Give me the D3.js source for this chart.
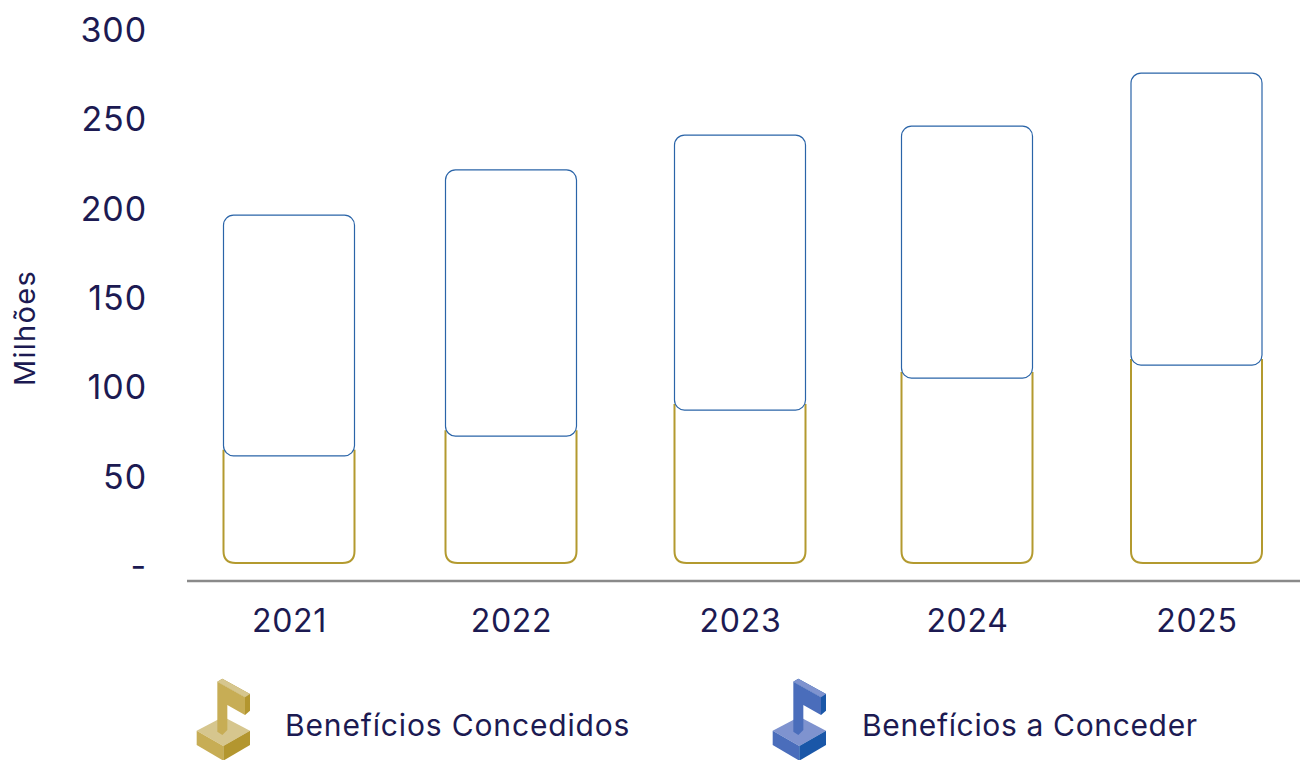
<!DOCTYPE html>
<html><head><meta charset="utf-8">
<script src="https://cdn.jsdelivr.net/npm/d3@7"></script>
<style>html,body{margin:0;padding:0;background:#fff}svg{display:block}text{font-family:Inter,"Open Sans",sans-serif;fill:#1c1a52}</style>
</head><body><svg id="c" width="1300" height="760"></svg>
<script>
const years=["2021","2022","2023","2024","2025"];
const concedidos=[60,71,85.6,103.5,110.8];
const aConceder=[134.7,149,153.9,141,163.4];
const yTicks=[0,50,100,150,200,250,300];
const legendLabels=["Benefícios Concedidos","Benefícios a Conceder"];

const svg=d3.select("#c");
const y=d3.scaleLinear().domain([0,300]).range([563,27]);
const x=d3.scaleOrdinal().domain(years).range([289,511,740,967,1196.5]);
const barW=131, gold="#b39a2f", blue="#2a64a8";

years.forEach((yr,i)=>{
  const cx=x(yr), l=cx-barW/2, r=cx+barW/2, b=y(0), t=y(concedidos[i]), k=12;
  const tuck=t-6; // the gold outline runs on behind the blue bar's rounded corners
  const p=d3.path();
  p.moveTo(l,tuck); p.lineTo(l,b-k); p.quadraticCurveTo(l,b,l+k,b);
  p.lineTo(r-k,b); p.quadraticCurveTo(r,b,r,b-k); p.lineTo(r,tuck);
  svg.append("path").attr("d",p.toString()).attr("fill","none").attr("stroke",gold).attr("stroke-width",2);
  const top=y(concedidos[i]+aConceder[i]);
  svg.append("rect").attr("x",l).attr("y",top).attr("width",barW).attr("height",t-top)
    .attr("rx",10).attr("fill","#fff").attr("stroke",blue).attr("stroke-width",1.2);
});

const ga=svg.append("g").attr("transform","translate(147,3.5)")
  .call(d3.axisLeft(y).tickValues(yTicks).tickSize(0).tickPadding(0).tickFormat(d=>d===0?"-":d));
ga.select(".domain").remove();
ga.selectAll("text").style("font-size","34px").style("letter-spacing","0.9px").style("font-family","Inter");

const gb=svg.append("g").attr("transform","translate(0,581)")
  .call(d3.axisBottom(x).tickSize(0).tickPadding(0));
gb.select(".domain").remove();
gb.selectAll("text").attr("y",28).style("font-size","32px").style("letter-spacing","0.7px").style("font-family","Inter");
svg.append("line").attr("x1",187).attr("x2",1300).attr("y1",581).attr("y2",581)
  .attr("stroke","#8a8a8a").attr("stroke-width",2.5);

svg.append("text").attr("transform","translate(24,328) rotate(-90)").attr("text-anchor","middle")
  .attr("dominant-baseline","central").style("font-size","29px").style("letter-spacing","1.3px").text("Milhões");

const faces=[
 ["top","M20 182L100 140L180 182L100 228Z"],
 ["left","M20 182L100 228L100 272L20 225Z"],
 ["right","M100 228L180 182L180 225L100 272Z"],
 ["left","M82 35L165 82L165 135L112 105L112 180L97 195L82 185Z"],
 ["right","M97 26L180 72L180 122L165 135L165 82L82 35Z"],
 ["top","M82 35L97 26L180 72L165 82Z"]
];
const palettes=[{top:"#d6c68e",left:"#c7ad55",right:"#b3962f"},{top:"#7f93cf",left:"#4a6dbb",right:"#1a57a8"}];
const legendX=d3.scaleOrdinal().domain(legendLabels).range([190,766]);
const legendSpacing=["0.85px","0.65px"];
legendLabels.forEach((lab,i)=>{
  const g=svg.append("g").attr("transform",`translate(${legendX(lab)},670) scale(${1/3})`);
  faces.forEach(f=>g.append("path").attr("d",f[1]).attr("fill",palettes[i][f[0]]));
  svg.append("text").attr("x",legendX(lab)+95+i).attr("y",736).style("font-size","30px").style("letter-spacing",legendSpacing[i]).text(lab);
});
</script></body></html>
